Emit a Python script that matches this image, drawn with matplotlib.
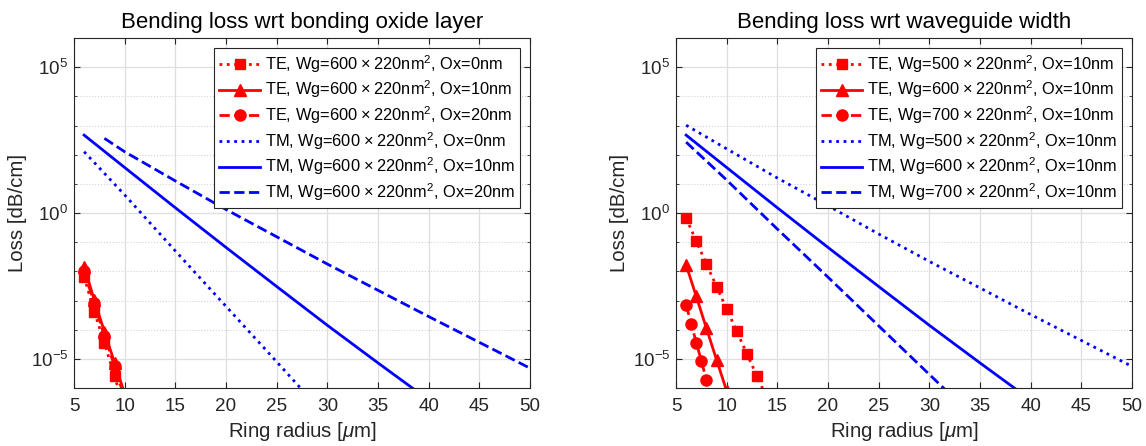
import numpy as np
import matplotlib
matplotlib.use('Agg')
import matplotlib.pyplot as plt
from matplotlib.ticker import FixedLocator, LogFormatterSciNotation, NullFormatter

plt.rcParams['font.family'] = ['Liberation Sans', 'DejaVu Sans']
plt.rcParams['mathtext.fontset'] = 'custom'
plt.rcParams['mathtext.rm'] = 'Liberation Sans'
plt.rcParams['mathtext.it'] = 'Liberation Sans:italic'
plt.rcParams['mathtext.bf'] = 'Liberation Sans:bold'

# ---- data: ring radius [um] vs log10(loss [dB/cm]) ----
# left panel: Wg=600x220, varying bonding oxide
te_ox0_r = [6, 7, 8, 9, 10]
te_ox0_logloss = [-2.19, -3.38, -4.45, -5.6, -6.75]
te_ox10_r = [6, 7, 8, 9, 10]
te_ox10_logloss = [-1.84, -2.98, -4.07, -5.13, -6.2]
te_ox20_r = [6, 7, 8, 9, 10]
te_ox20_logloss = [-2.0, -3.1, -4.2, -5.25, -6.35]

tm_ox0_r = [6, 10, 15, 20, 25, 28]
tm_ox0_logloss = [2.1, 0.62, -1.3, -3.2, -5.1, -6.25]
tm_ox10_r = [6, 10, 15, 20, 25, 30, 35, 40]
tm_ox10_logloss = [2.67, 1.56, 0.18, -1.18, -2.52, -3.85, -5.14, -6.41]
tm_ox20_r = [8, 10, 15, 20, 30, 40, 50]
tm_ox20_logloss = [2.56, 2.1, 1.1, 0.12, -1.75, -3.55, -5.32]

# right panel: Ox=10nm, varying waveguide width
te_w500_r = [6, 7, 8, 9, 10, 11, 12, 13, 14]
te_w500_logloss = [-0.18, -0.96, -1.75, -2.52, -3.29, -4.06, -4.83, -5.6, -6.37]
te_w600_r = [6, 7, 8, 9, 10]
te_w600_logloss = [-1.78, -2.86, -3.95, -5.03, -6.1]
te_w700_r = [6, 6.5, 7, 7.5, 8, 8.5]
te_w700_logloss = [-3.15, -3.8, -4.44, -5.07, -5.72, -6.36]

tm_w500_r = [6, 10, 15, 20, 25, 30, 40, 50]
tm_w500_logloss = [3.01, 2.2, 1.2, 0.25, -0.72, -1.66, -3.48, -5.26]
tm_w600_r = tm_ox10_r
tm_w600_logloss = tm_ox10_logloss
tm_w700_r = [6, 10, 15, 20, 25, 32]
tm_w700_logloss = [2.43, 1.13, -0.55, -2.2, -3.87, -6.2]

X = '$\\hspace{0.08}\\times\\hspace{0.08}$'
left_labels = [
    'TE, Wg=600' + X + '220nm$^2$, Ox=0nm',
    'TE, Wg=600' + X + '220nm$^2$, Ox=10nm',
    'TE, Wg=600' + X + '220nm$^2$, Ox=20nm',
    'TM, Wg=600' + X + '220nm$^2$, Ox=0nm',
    'TM, Wg=600' + X + '220nm$^2$, Ox=10nm',
    'TM, Wg=600' + X + '220nm$^2$, Ox=20nm',
]
right_labels = [
    'TE, Wg=500' + X + '220nm$^2$, Ox=10nm',
    'TE, Wg=600' + X + '220nm$^2$, Ox=10nm',
    'TE, Wg=700' + X + '220nm$^2$, Ox=10nm',
    'TM, Wg=500' + X + '220nm$^2$, Ox=10nm',
    'TM, Wg=600' + X + '220nm$^2$, Ox=10nm',
    'TM, Wg=700' + X + '220nm$^2$, Ox=10nm',
]

styles = [
    dict(color='red', linestyle=':', marker='s', markersize=7),
    dict(color='red', linestyle='-', marker='^', markersize=9),
    dict(color='red', linestyle='--', marker='o', markersize=8),
    dict(color='blue', linestyle=':'),
    dict(color='blue', linestyle='-'),
    dict(color='blue', linestyle='--'),
]

TXT = '#262626'


def draw_panel(ax, series, labels, title):
    for (r, lg), lab, st in zip(series, labels, styles):
        ax.semilogy(r, 10.0 ** np.array(lg), linewidth=2, label=lab, **st)
    ax.set_xlim(5, 50)
    ax.set_ylim(1e-6, 1e6)
    ax.set_xticks(np.arange(5, 51, 5))
    ax.yaxis.set_major_locator(FixedLocator([1e-5, 1e0, 1e5]))
    ax.yaxis.set_major_formatter(LogFormatterSciNotation())
    ax.yaxis.set_minor_locator(FixedLocator([10.0 ** k for k in range(-6, 7)]))
    ax.yaxis.set_minor_formatter(NullFormatter())
    ax.grid(True, which='major', color='#dedede', linewidth=0.9, linestyle='-')
    ax.grid(True, which='minor', axis='y', color='#d4d4d4', linewidth=0.8, linestyle=':')
    ax.set_axisbelow(True)
    ax.tick_params(which='both', direction='in', top=True, right=True, colors=TXT,
                   labelsize=13.6)
    ax.tick_params(which='major', length=4)
    ax.tick_params(which='minor', length=2.5)
    ax.tick_params(axis='x', pad=7)
    ax.tick_params(axis='y', pad=4)
    for s in ax.spines.values():
        s.set_color(TXT)
        s.set_linewidth(0.8)
    ax.set_xlabel('Ring radius [$\\mu$m]', fontsize=14.7, color=TXT, labelpad=4)
    ax.set_ylabel('Loss [dB/cm]', fontsize=14.7, color=TXT, labelpad=3)
    ax.set_title(title, fontsize=16, color='black', pad=7)
    leg = ax.legend(loc='upper right', bbox_to_anchor=(0.978, 0.971), borderaxespad=0,
                    fontsize=11.8, fancybox=False, framealpha=1, edgecolor=TXT,
                    handlelength=2.5, handletextpad=0.3, borderpad=0.3,
                    labelspacing=0.24)
    leg.get_frame().set_linewidth(0.8)


fig = plt.figure(figsize=(11.46, 4.46), dpi=100)
ax1 = fig.add_axes([74 / 1146, 58 / 446, 456 / 1146, 350 / 446])
ax2 = fig.add_axes([676 / 1146, 58 / 446, 456 / 1146, 350 / 446])

draw_panel(ax1,
           [(te_ox0_r, te_ox0_logloss), (te_ox10_r, te_ox10_logloss),
            (te_ox20_r, te_ox20_logloss), (tm_ox0_r, tm_ox0_logloss),
            (tm_ox10_r, tm_ox10_logloss), (tm_ox20_r, tm_ox20_logloss)],
           left_labels, 'Bending loss wrt bonding oxide layer')
draw_panel(ax2,
           [(te_w500_r, te_w500_logloss), (te_w600_r, te_w600_logloss),
            (te_w700_r, te_w700_logloss), (tm_w500_r, tm_w500_logloss),
            (tm_w600_r, tm_w600_logloss), (tm_w700_r, tm_w700_logloss)],
           right_labels, 'Bending loss wrt waveguide width')

fig.savefig('out.png', dpi=100)
